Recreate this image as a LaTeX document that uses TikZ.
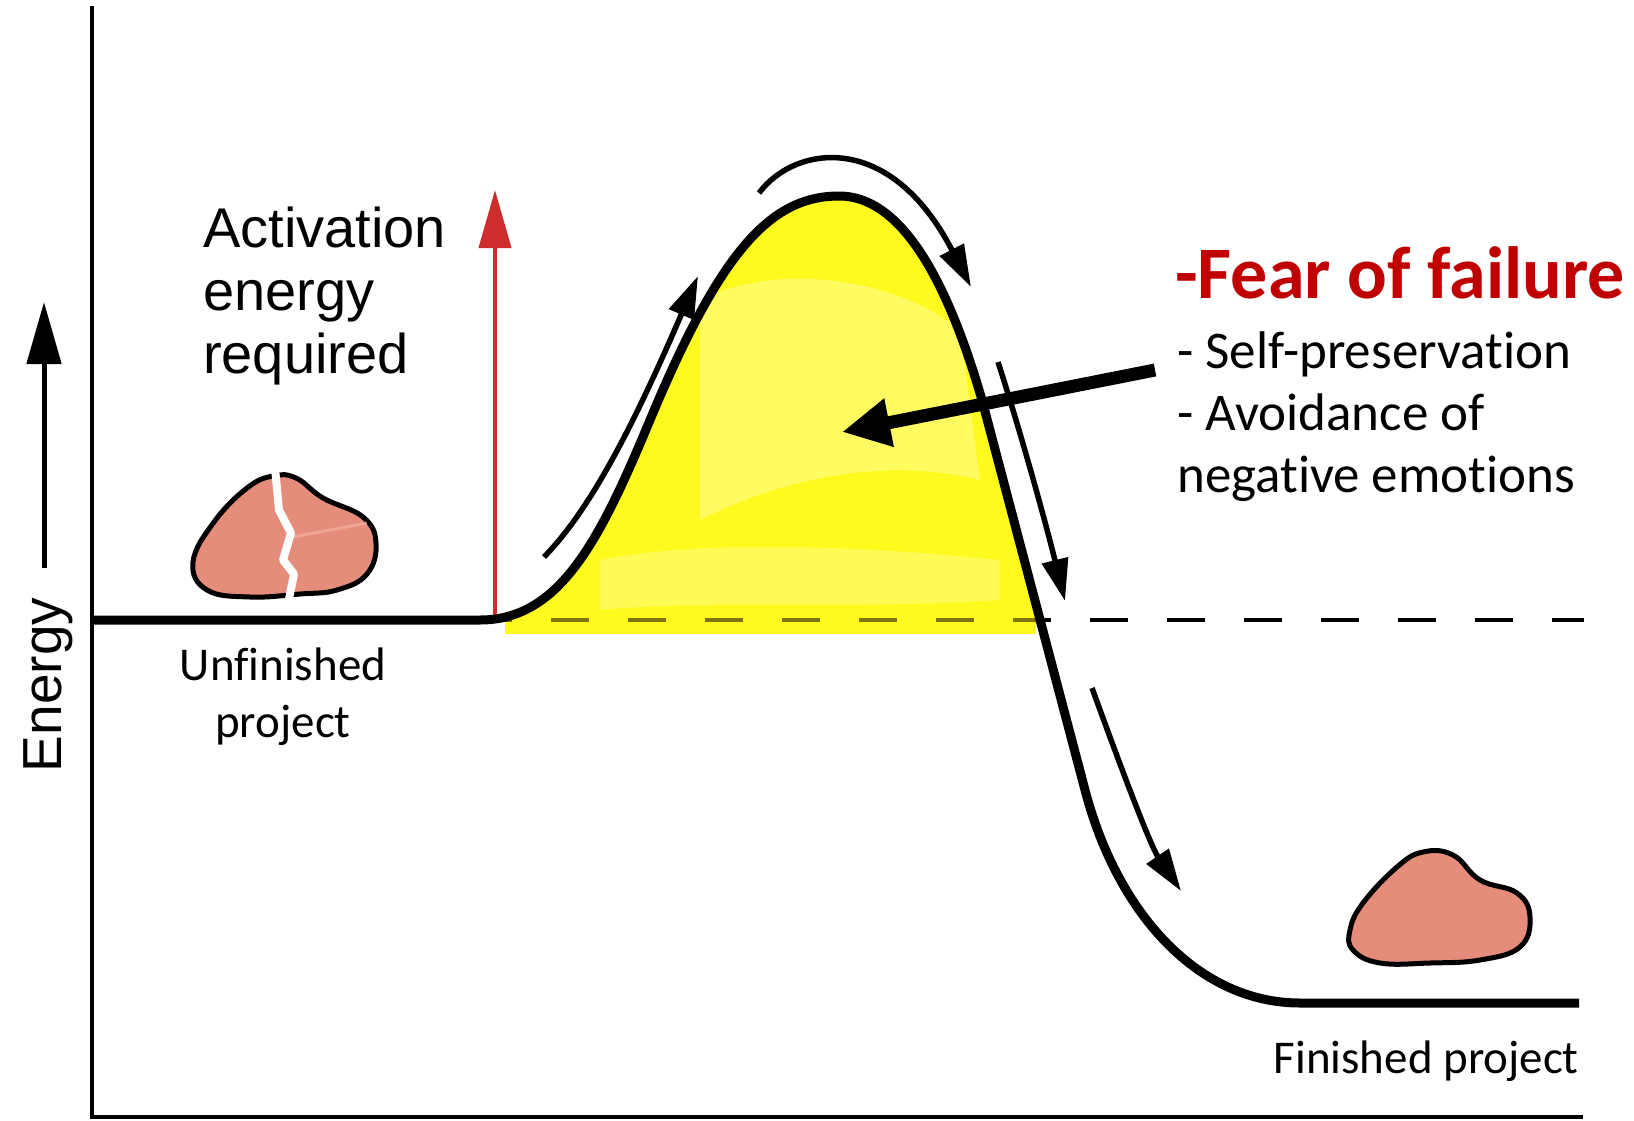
\documentclass[tikz,border=0pt]{standalone}
\usepackage{fontspec}
\setmainfont{Carlito}[Ligatures={NoCommon}]
\newfontfamily\helv{Liberation Sans}
\usetikzlibrary{arrows.meta}
\definecolor{failred}{RGB}{192,0,0}
\definecolor{actred}{RGB}{205,45,45}
\definecolor{rockfill}{RGB}{230,140,122}
\definecolor{rocklight}{RGB}{244,178,160}
\definecolor{hilite}{RGB}{255,250,30}
\definecolor{hilitelight}{RGB}{255,252,140}
\definecolor{dasholive}{RGB}{125,115,20}
\begin{document}
\begin{tikzpicture}[x=1pt,y=-1pt,
  axis/.style={line width=4pt, line cap=rect},
  energycurve/.style={line width=9pt},
  levelline/.style={line width=4.5pt, dash pattern=on 38pt off 39pt},
  flowarrow/.style={line width=5.5pt, -{Triangle[length=42pt,width=26pt]}},
  rock/.style={fill=rockfill, draw=black, line width=5pt, line join=round},
  labelfont/.style={font=\fontsize{47}{57}\selectfont, inner sep=0pt},
  listfont/.style={font=\fontsize{53}{62}\selectfont, inner sep=0pt},
]
\useasboundingbox (0,0) rectangle (1634,1120);
\fill[white] (0,0) rectangle (1634,1120);

% axes
\coordinate (origin) at (92,1117);
\coordinate (ytop) at (92,8);
\coordinate (xend) at (1581,1117);
\draw[axis] (ytop) -- (origin) -- (xend);

% level of the unfinished project, continued as a dashed line
\draw[levelline] (474,620) -- (1584,620);

% highlighted barrier
\begin{scope}
  \clip (480,634) -- (480,620) .. controls (560,620) and (600,540) .. (650,420)
        .. controls (720,252) and (770,196) .. (839,196)
        .. controls (905,196) and (950,290) .. (982,400)
        -- (1085,790) -- (1085,634) -- cycle;
  \fill[hilite] (505,180) rectangle (1036,634);
  \fill[hilitelight, opacity=0.6] (700,300) .. controls (780,260) and (900,280) .. (960,330)
        -- (980,480) .. controls (900,460) and (800,470) .. (700,520) -- cycle;
  \fill[hilitelight, opacity=0.5] (600,560) .. controls (700,540) and (850,545) .. (1000,560)
        -- (1000,600) .. controls (850,610) and (700,600) .. (600,610) -- cycle;
  \draw[levelline, dasholive] (474,620) -- (1584,620);
\end{scope}

% activation energy arrow
\coordinate (actfoot) at (495,615);
\coordinate (acttip) at (495,190);
\draw[actred, line width=4pt, -{Triangle[length=58pt,width=32pt]}] (actfoot) -- (acttip);

% energy profile
\draw[energycurve] (92,620) -- (480,620) .. controls (560,620) and (600,540) .. (650,420)
      .. controls (720,252) and (770,196) .. (839,196)
      .. controls (905,196) and (950,290) .. (982,400)
      -- (1085,790) .. controls (1118,916) and (1200,1003) .. (1300,1003)
      -- (1579,1003);

% arrows following the path over the barrier
\coordinate (upA) at (544,557);
\coordinate (upB) at (698,276);
\draw[flowarrow] (upA) .. controls (595,505) and (640,410) .. (upB);
\coordinate (topA) at (759,193);
\coordinate (topB) at (971,287);
\draw[flowarrow] (topA) .. controls (795,145) and (890,130) .. (topB);
\coordinate (downA) at (998,362);
\coordinate (downB) at (1065,601);
\draw[flowarrow] (downA) .. controls (1020,430) and (1045,520) .. (downB);
\coordinate (lowA) at (1092,688);
\coordinate (lowB) at (1181,891);
\draw[flowarrow] (lowA) .. controls (1120,765) and (1150,845) .. (lowB);

% rocks
\draw[rock] plot[smooth cycle, tension=0.7] coordinates {(193,562) (214,522) (247,488) (273,476) (296,478) (323,498) (363,517) (376,543) (367,574) (337,590) (300,594) (250,597) (207,590)};
\draw[rocklight, line width=3pt, opacity=0.7] (293,537) -- (367,523);
\draw[white, line width=8pt, line join=round] (275,468) -- (279,510) -- (291,533) -- (283,560) -- (294,574) -- (288,604);
\draw[rock] plot[smooth cycle, tension=0.7] coordinates {(1350,930) (1363,903) (1397,867) (1423,852) (1453,855) (1480,880) (1517,893) (1530,917) (1520,947) (1480,960) (1430,963) (1380,963) (1353,950)};

% labels
\node[font=\helv\fontsize{56}{63}\selectfont, align=left, anchor=base west, inner sep=0pt] (act) at (203,373) {Activation\\energy\\required};
\node[font=\helv\fontsize{55}{60}\selectfont, rotate=90, anchor=base, inner sep=0pt] (energy) at (61,685) {Energy};
\coordinate (etail) at (44,568);
\coordinate (etip) at (44,302);
\draw[line width=5pt, -{Triangle[length=62pt,width=34pt]}] (etail) -- (etip);
\node[labelfont, align=center, anchor=base] (unf) at (283,737) {Unfinished\\project};
\node[labelfont, anchor=base east] (fin) at (1579,1073) {Finished project};
\node[font=\bfseries\fontsize{74}{80}\selectfont, text=failred, anchor=base west, inner sep=0pt] (fear) at (1175,298) {-Fear of failure};
\node[listfont, align=left, anchor=base west] (list) at (1177,492) {- Self-preservation\\- Avoidance of\\negative emotions};

% pointer into the barrier
\coordinate (bigtail) at (1155,370);
\coordinate (bigtip) at (842,432);
\draw[line width=13pt, -{Triangle[length=48pt,width=46pt]}] (bigtail) -- (bigtip);
\end{tikzpicture}
\end{document}
